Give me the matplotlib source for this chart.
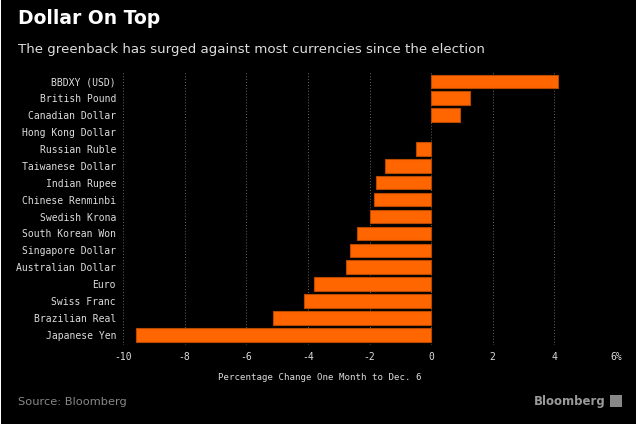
import numpy as np
import matplotlib.pyplot as plt
from matplotlib.patches import Rectangle

# データ
currencies = ["BBDXY (USD)", "British Pound", "Canadian Dollar", "Hong Kong Dollar",
              "Russian Ruble", "Taiwanese Dollar", "Indian Rupee", "Chinese Renminbi",
              "Swedish Krona", "South Korean Won", "Singapore Dollar", "Australian Dollar",
              "Euro", "Swiss Franc", "Brazilian Real", "Japanese Yen"]
changes = [4.12, 1.27, 0.94, 0.0, -0.49, -1.49, -1.79, -1.85, -1.98, -2.40,
           -2.63, -2.76, -3.80, -4.12, -5.13, -9.58]
xticks = [-10, -8, -6, -4, -2, 0, 2, 4, 6]
xticklabels = ["-10", "-8", "-6", "-4", "-2", "0", "2", "4", "6%"]

mono = "DejaVu Sans Mono"

fig = plt.figure(figsize=(6.4, 4.28), dpi=100, facecolor="white")
# 黒い背景（右と下に白い縁）
fig.patches.append(Rectangle((1 / 640, 4 / 428), 635 / 640, 424 / 428,
                             transform=fig.transFigure, facecolor="black",
                             edgecolor="none", zorder=-10))

ax = fig.add_axes([123 / 640, 1 - 345 / 428, 493 / 640, 273 / 428])
ax.set_zorder(2)
ax.set_facecolor("black")

y = np.arange(len(currencies))
# 値が0の棒は枠線を描かない
edges = ["#b84a00" if v != 0 else "none" for v in changes]
ax.barh(y, changes, height=0.8, color="#ff6600", edgecolor=edges,
        linewidth=0.8, zorder=3)

ax.set_xlim(-10, 6)
ax.set_ylim(len(currencies) - 0.4, -0.55)
ax.set_xticks(xticks)
ax.set_xticklabels(xticklabels, family=mono, fontsize=7, color="#dddddd")
ax.set_yticks(y)
ax.set_yticklabels(currencies, family=mono, fontsize=7, color="#dddddd")
ax.tick_params(length=0, pad=5)
ax.grid(axis="x", color="#666666", linestyle=(0, (1, 2)), linewidth=0.7, zorder=0)
for s in ax.spines.values():
    s.set_visible(False)

# テキスト
fig.text(18 / 640, 1 - 18 / 428, "Dollar On Top", fontsize=13.5, fontweight="bold",
         color="white", va="center")
fig.text(18 / 640, 1 - 49 / 428, "The greenback has surged against most currencies since the election",
         fontsize=9.6, color="#dddddd", va="center")
fig.text(0.5, 1 - 378 / 428, "Percentage Change One Month to Dec. 6", family=mono,
         fontsize=6.6, color="#dddddd", ha="center", va="center")
fig.text(18 / 640, 1 - 402 / 428, "Source: Bloomberg", fontsize=8.2, color="#888888",
         va="center")
fig.text(606 / 640, 1 - 401 / 428, "Bloomberg", fontsize=8.5, fontweight="bold",
         color="#999999", ha="right", va="center")
fig.patches.append(Rectangle((610 / 640, 1 - 407 / 428), 12 / 640, 12 / 428,
                             transform=fig.transFigure, facecolor="#888888",
                             edgecolor="none", zorder=1))

fig.savefig("out.png", dpi=100, facecolor=fig.get_facecolor())
